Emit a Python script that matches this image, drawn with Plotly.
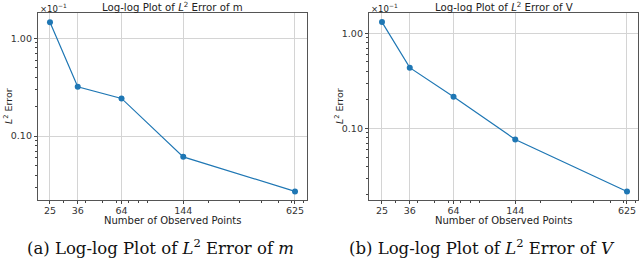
import plotly.graph_objects as go

# ---- data ----
n_points = [25, 36, 64, 144, 625]
x_tick_labels = ["25", "36", "64", "144", "625"]
err_m = [1.46, 0.32, 0.243, 0.0614, 0.0272]   # in units of 1e-1
err_V = [1.31, 0.435, 0.215, 0.0766, 0.0217]  # in units of 1e-1
y_tick_vals = [1.0, 0.1]
y_tick_labels = ["1.00", "0.10"]

W, H = 640, 264
BLUE = "#1f77b4"
TICKFONT = dict(family="DejaVu Sans", size=9.5, color="#333")

fig = go.Figure()
fig.add_trace(go.Scatter(x=n_points, y=err_m, mode="lines+markers", xaxis="x", yaxis="y",
                         line=dict(color=BLUE, width=1.2), marker=dict(color=BLUE, size=6),
                         showlegend=False))
fig.add_trace(go.Scatter(x=n_points, y=err_V, mode="lines+markers", xaxis="x2", yaxis="y2",
                         line=dict(color=BLUE, width=1.2), marker=dict(color=BLUE, size=6),
                         showlegend=False))

x_minor = [v * 10 for v in range(3, 10)] + [v * 100 for v in range(2, 8)]
y_minor = [v * 0.01 for v in range(2, 10)] + [v * 0.1 for v in range(2, 10)] + [2.0]

def px_x(p):
    return p / W

def px_y(p):
    return 1 - p / H

def xaxis(domain, rng):
    return dict(type="log", domain=domain, range=rng,
                tickmode="array", tickvals=n_points, ticktext=x_tick_labels,
                ticks="outside", ticklen=3, tickcolor="#444", tickfont=TICKFONT,
                ticklabelstandoff=-1,
                showgrid=True, gridcolor="#d4d4d4", gridwidth=1,
                showline=True, linecolor="#555", linewidth=1.3, mirror=True,
                zeroline=False, automargin=False,
                minor=dict(tickmode="array", tickvals=x_minor, ticks="outside",
                           ticklen=2, tickcolor="#444", showgrid=False))

def yaxis(domain, rng, anchor):
    return dict(type="log", domain=domain, range=rng, anchor=anchor,
                tickmode="array", tickvals=y_tick_vals, ticktext=y_tick_labels,
                ticks="outside", ticklen=3, tickcolor="#444", tickfont=TICKFONT,
                showgrid=True, gridcolor="#d4d4d4", gridwidth=1,
                showline=True, linecolor="#555", linewidth=1.3, mirror=True,
                zeroline=False, automargin=False,
                minor=dict(tickmode="array", tickvals=y_minor, ticks="outside",
                           ticklen=2, tickcolor="#444", showgrid=False))

ydom = [px_y(199.5), px_y(13.3)]
fig.update_layout(
    width=W, height=H, margin=dict(l=0, r=0, t=0, b=0),
    paper_bgcolor="white", plot_bgcolor="white",
    xaxis=xaxis([px_x(38), px_x(307)], [1.3296, 2.8644]),
    yaxis=yaxis(ydom, [-1.648, 0.256], "x"),
    xaxis2=xaxis([px_x(369), px_x(638)], [1.3238, 2.8587]),
    yaxis2=yaxis(ydom, [-1.747, 0.21], "x2"),
)
fig.layout.xaxis2.anchor = "y2"
fig.layout.xaxis.anchor = "y"

ann = []
def add(x, y, text, size, family="DejaVu Sans", angle=0, xanchor="center", yanchor="middle", color="#222"):
    ann.append(dict(x=x, y=y, xref="paper", yref="paper", text=text, showarrow=False,
                    font=dict(family=family, size=size, color=color), textangle=angle,
                    xanchor=xanchor, yanchor=yanchor))

for cx, sub, var, axl in [(172.5, "(a)", "m", 38), (503.5, "(b)", "V", 369)]:
    add(px_x(cx), px_y(6.5), f"Log-log Plot of <i>L</i><sup>2</sup> Error of {var}", 10.2)
    add(px_x(axl), px_y(8), "×10<sup>−1</sup>", 8.5, xanchor="left")
    add(px_x(cx), px_y(220.5), "Number of Observed Points", 10)
    add(px_x(axl - 30), px_y(106), "<i>L</i><sup>2</sup> Error", 9.5, angle=-90)
    cap_x = 160 if var == "m" else 482
    add(px_x(cap_x), px_y(247), f"{sub} Log-log Plot of <i>L</i><sup>2</sup> Error of <i>{var}</i>", 16.5,
        family="DejaVu Serif", color="#111")

fig.update_layout(annotations=ann)
fig.write_html("out.html", config={"displayModeBar": False},
               post_script="document.body.style.margin='0';document.body.style.padding='0';")
